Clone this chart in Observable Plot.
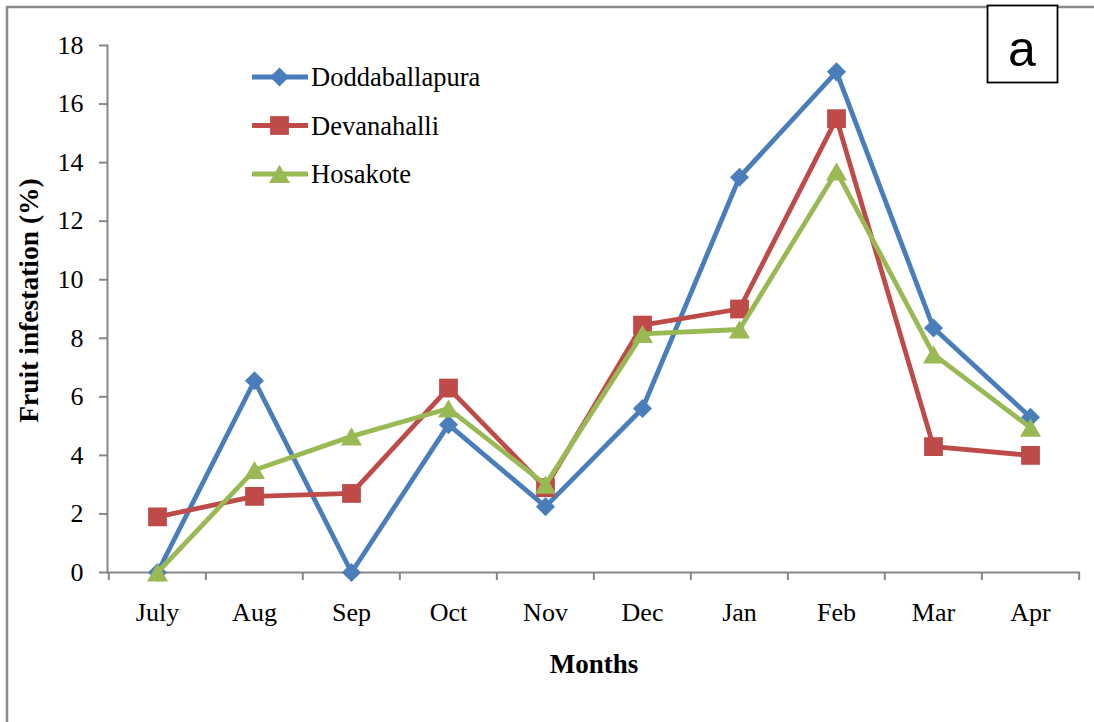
<!DOCTYPE html>
<html>
<head>
<meta charset="utf-8">
<script src="https://cdn.jsdelivr.net/npm/d3@7"></script>
<script src="https://cdn.jsdelivr.net/npm/@observablehq/plot@0.6"></script>
<style>
  html, body { margin: 0; padding: 0; background: #fff; }
  #wrap { position: relative; width: 1094px; height: 722px; overflow: hidden; }
  #wrap svg { position: absolute; left: 0; top: 0; }
</style>
</head>
<body>
<div id="wrap"></div>
<script>
// ---- data ----
const months = ["July", "Aug", "Sep", "Oct", "Nov", "Dec", "Jan", "Feb", "Mar", "Apr"];
const doddaballapura = [0, 6.55, 0, 5.05, 2.25, 5.6, 13.5, 17.1, 8.35, 5.3];
const devanahalli   = [1.9, 2.6, 2.7, 6.3, 2.9, 8.45, 9.0, 15.5, 4.3, 4.0];
const hosakote      = [0, 3.5, 4.65, 5.6, 3.0, 8.15, 8.3, 13.7, 7.45, 4.95];
const seriesNames = ["Doddaballapura", "Devanahalli", "Hosakote"];
const yTicks = [0, 2, 4, 6, 8, 10, 12, 14, 16, 18];
const xTitle = "Months";
const yTitle = "Fruit infestation (%)";
const panelLabel = "a";

// ---- styles ----
const colors = ["#4A7EBB", "#BE4B48", "#98B954"];
const symbols = ["diamond2", "square", "triangle"];
const radii = [8.6, 10.6, 7.8];
const dys = [0, 0, 3];
const axisGray = "#878787";
const serif = "'Liberation Serif', 'Times New Roman', serif";

const seriesValues = [doddaballapura, devanahalli, hosakote];
const tables = seriesValues.map((vals, i) =>
  months.map((m, j) => ({month: m, value: vals[j], series: seriesNames[i]})));

const W = 1094, H = 722;
const mL = 107, mR = 14, mT = 45, mB = 150;
const halfStep = (W - mL - mR) / months.length / 2;

const seriesMarks = tables.flatMap((t, i) => [
  Plot.lineY(t, {x: "month", y: "value", stroke: colors[i], strokeWidth: 4.8}),
  Plot.dot(t, {x: "month", y: "value", fill: colors[i], stroke: "none",
               symbol: () => symbols[i], r: radii[i], dy: dys[i]})
]);

const chart = Plot.plot({
  width: W, height: H,
  marginLeft: mL, marginRight: mR, marginTop: mT, marginBottom: mB,
  style: {fontFamily: serif, fontSize: "26px", color: "#000", background: "transparent", overflow: "visible"},
  x: {type: "point", domain: months, padding: 0.5},
  y: {domain: [0, 18]},
  marks: [
    Plot.frame({anchor: "left", stroke: axisGray, strokeWidth: 2}),
    Plot.ruleY([0], {stroke: axisGray, strokeWidth: 2}),
    Plot.axisY({ticks: yTicks, tickSize: 8, tickPadding: 16, stroke: axisGray, strokeWidth: 2, fill: "#000", fontSize: 26, fontFamily: serif, label: null}),
    Plot.axisX({tickSize: 8, text: null, dx: -halfStep, stroke: axisGray, strokeWidth: 2, label: null}),
    Plot.axisX({ticks: [months[months.length - 1]], tickSize: 8, text: null, dx: halfStep, stroke: axisGray, strokeWidth: 2, label: null}),
    Plot.axisX({tickSize: 0, tickPadding: 30, fill: "#000", fontSize: 26, fontFamily: serif, label: null}),
    Plot.text([xTitle], {frameAnchor: "bottom", textAnchor: "middle", lineAnchor: "bottom", dy: 100, fontWeight: "bold", fontSize: 27, fontFamily: serif, fill: "#000"}),
    Plot.text([yTitle], {frameAnchor: "left", textAnchor: "middle", lineAnchor: "middle", dx: -78, dy: -8.5, rotate: -90, fontWeight: "bold", fontSize: 27.5, fontFamily: serif, fill: "#000"}),
    ...seriesMarks
  ]
});

const wrap = document.getElementById("wrap");
wrap.appendChild(chart);

// ---- overlay: border, legend, panel label ----
const ov = d3.select(wrap).append("svg")
  .attr("width", W).attr("height", H);

ov.append("path")
  .attr("d", `M7,${H} L7,7 L${W},7`)
  .attr("fill", "none").attr("stroke", "#8a8a8a").attr("stroke-width", 2.5);

const leg = ov.append("g");
const legRows = [77, 125.5, 174];
seriesNames.forEach((name, i) => {
  const g = leg.append("g").attr("transform", `translate(0,${legRows[i]})`);
  g.append("line").attr("x1", 252).attr("x2", 308).attr("y1", 0).attr("y2", 0)
    .attr("stroke", colors[i]).attr("stroke-width", 4.8);
  const symType = [d3.symbolDiamond2, d3.symbolSquare, d3.symbolTriangle][i];
  g.append("path")
    .attr("d", d3.symbol(symType, Math.PI * radii[i] * radii[i])())
    .attr("transform", `translate(279.5,${dys[i]})`)
    .attr("fill", colors[i]);
  g.append("text").attr("x", 311).attr("y", 9)
    .attr("font-family", serif).attr("font-size", 26.5).attr("fill", "#000")
    .text(name);
});

ov.append("rect").attr("x", 987.5).attr("y", 5.5).attr("width", 70).attr("height", 77)
  .attr("fill", "#fff").attr("stroke", "#000").attr("stroke-width", 1.8);
ov.append("text").attr("x", 1022).attr("y", 66).attr("text-anchor", "middle")
  .attr("font-family", "'Liberation Sans', Arial, sans-serif").attr("font-size", 50).attr("fill", "#000")
  .text(panelLabel);
</script>
</body>
</html>
